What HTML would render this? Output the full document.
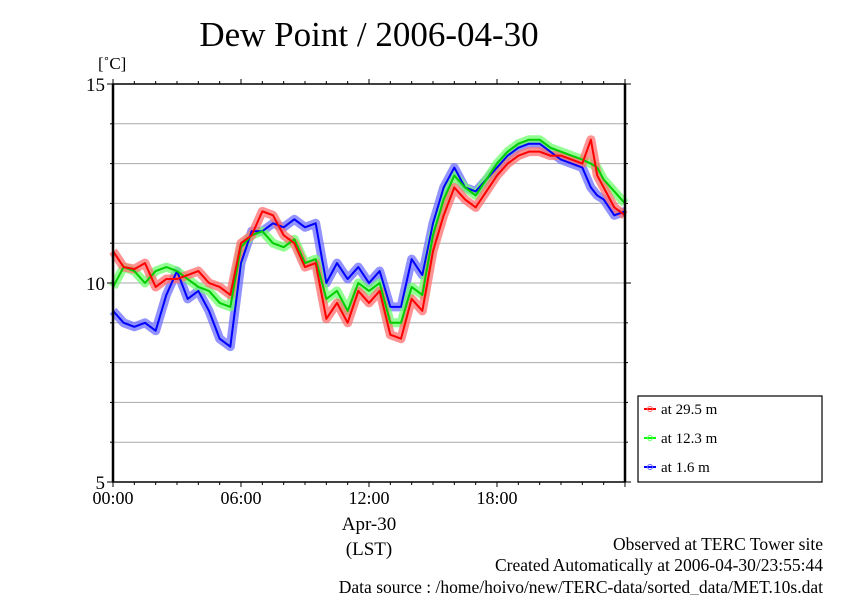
<!DOCTYPE html>
<html><head><meta charset="utf-8"><style>
body{margin:0;background:#fff;}
svg text{font-family:"Liberation Serif",serif;fill:#000;}
</style></head><body>
<svg id="c" width="842" height="595" xmlns="http://www.w3.org/2000/svg">
<text x="369" y="46" font-size="35" text-anchor="middle">Dew Point / 2006-04-30</text>
<text x="98" y="69" font-size="17">[˚C]</text>
<g id="grid"></g>
<g id="series"></g>
<g id="axes"></g>
<text x="369" y="530" font-size="19" text-anchor="middle">Apr-30</text>
<text x="369" y="555" font-size="19" text-anchor="middle">(LST)</text>
<text x="823" y="550" font-size="17.5" text-anchor="end">Observed at TERC Tower site</text>
<text x="823" y="571" font-size="17.5" text-anchor="end">Created Automatically at 2006-04-30/23:55:44</text>
<text x="823" y="593" font-size="17.5" text-anchor="end">Data source : /home/hoivo/new/TERC-data/sorted_data/MET.10s.dat</text>
<g>
<rect x="638" y="396" width="184" height="86" fill="#fff" stroke="#000" stroke-width="1.2"/>
<line x1="644" y1="409" x2="656" y2="409" stroke="#f00" stroke-width="2"/><circle cx="650" cy="409" r="2.5" fill="none" stroke="#f66"/>
<text x="661" y="414" font-size="15">at 29.5 m</text>
<line x1="644" y1="438" x2="656" y2="438" stroke="#0f0" stroke-width="2"/><circle cx="650" cy="438" r="2.5" fill="none" stroke="#6f6"/>
<text x="661" y="443" font-size="15">at 12.3 m</text>
<line x1="644" y1="467" x2="656" y2="467" stroke="#00f" stroke-width="2"/><circle cx="650" cy="467" r="2.5" fill="none" stroke="#66f"/>
<text x="661" y="472" font-size="15">at 1.6 m</text>
</g>
</svg>
<script>
const hours=[0,0.5,1,1.5,2,2.5,3,3.5,4,4.5,5,5.5,6,6.5,7,7.5,8,8.5,9,9.5,10,10.5,11,11.5,12,12.5,13,13.5,14,14.5,15,15.5,16,16.5,17,17.5,18,18.5,19,19.5,20,20.5,21,21.5,22,22.4,22.7,23,23.5,24];
const red=[10.8,10.4,10.35,10.5,9.9,10.1,10.1,10.2,10.3,10.0,9.9,9.7,11.0,11.2,11.8,11.7,11.2,11.0,10.4,10.5,9.1,9.5,9.0,9.8,9.5,9.8,8.7,8.6,9.6,9.3,10.8,11.7,12.4,12.1,11.9,12.3,12.7,13.0,13.2,13.3,13.3,13.2,13.2,13.1,13.0,13.6,12.7,12.4,11.9,11.7];
const green=[9.9,10.4,10.3,10.0,10.3,10.4,10.3,10.1,9.9,9.8,9.5,9.4,10.9,11.2,11.3,11.0,10.9,11.1,10.5,10.6,9.6,9.8,9.3,10.0,9.8,10.0,9.0,9.0,9.9,9.7,11.2,12.1,12.7,12.4,12.2,12.6,13.0,13.3,13.5,13.6,13.6,13.4,13.3,13.2,13.1,13.0,12.9,12.6,12.3,12.0];
const blue=[9.3,9.0,8.9,9.0,8.8,9.7,10.3,9.6,9.8,9.3,8.6,8.4,10.5,11.3,11.3,11.5,11.4,11.6,11.4,11.5,10.0,10.5,10.1,10.4,10.0,10.3,9.4,9.4,10.6,10.2,11.5,12.4,12.9,12.4,12.3,12.6,12.9,13.2,13.4,13.5,13.5,13.3,13.1,13.0,12.9,12.4,12.2,12.1,11.7,11.8];
const yTicks=[5,10,15];
const xTickLabels=["00:00","06:00","12:00","18:00"];
const X0=113,X1=625,Y0=482,Y1=84;
const xs=h=>X0+(X1-X0)*h/24;
const ys=v=>Y0-(Y0-Y1)*(v-5)/10;
const NS="http://www.w3.org/2000/svg";
function mk(tag,attrs,parent){const e=document.createElementNS(NS,tag);for(const k in attrs)e.setAttribute(k,attrs[k]);parent.appendChild(e);return e;}
const grid=document.getElementById('grid'),ser=document.getElementById('series'),ax=document.getElementById('axes');
for(let v=6;v<15;v++){
 const l=mk('line',{x1:X0,x2:X1,y1:ys(v),y2:ys(v),stroke:'#aaa','stroke-width':1},grid);
 
 
}
const specs=[[blue,'#6f6fff','#00f','series-1-6m'],[green,'#6fff6f','#0c0','series-12-3m'],[red,'#ff6f6f','#f00','series-29-5m']];
specs.forEach(s=>{
 const pts=hours.map((h,i)=>xs(h)+','+ys(s[0][i])).join(' ');
 const b=mk('polyline',{points:pts,fill:'none',stroke:s[1],'stroke-width':9,'stroke-linejoin':'round',opacity:0.75},ser);
 
 
});
specs.forEach(s=>{
 const pts=hours.map((h,i)=>xs(h)+','+ys(s[0][i])).join(' ');
 const l=mk('polyline',{points:pts,fill:'none',stroke:s[2],'stroke-width':2,'stroke-linejoin':'round'},ser);
 
 
});
const frame=mk('rect',{x:X0,y:Y1,width:X1-X0,height:Y0-Y1,fill:'none',stroke:'#000','stroke-width':1.5},ax);


mk('line',{x1:X0,x2:X0,y1:Y1,y2:Y0,stroke:'#000','stroke-width':2.5},ax);
mk('line',{x1:X1,x2:X1,y1:Y1,y2:Y0,stroke:'#000','stroke-width':2.5},ax);
for(let h=0;h<=24;h++){
 const big=h%6===0;
 mk('line',{x1:xs(h),x2:xs(h),y1:Y1,y2:Y1-(big?5:3),stroke:'#000'},ax);
 mk('line',{x1:xs(h),x2:xs(h),y1:Y0,y2:Y0+(big?5:3),stroke:'#000'},ax);
}
for(let v=5;v<=15;v++){
 const big=v%5===0;
 mk('line',{x1:X0,x2:X0-(big?6:3),y1:ys(v),y2:ys(v),stroke:'#000'},ax);
 mk('line',{x1:X1,x2:X1+(big?6:3),y1:ys(v),y2:ys(v),stroke:'#000'},ax);
}
yTicks.forEach(v=>{
 const t=mk('text',{x:105,y:ys(v)+7,'font-size':19,'text-anchor':'end'},ax);
 t.textContent=v;
 
 
});
xTickLabels.forEach((s,i)=>{
 const t=mk('text',{x:xs(i*6),y:Y0+22,'font-size':18,'text-anchor':'middle'},ax);
 t.textContent=s;
 
 
});
</script>
</body></html>
